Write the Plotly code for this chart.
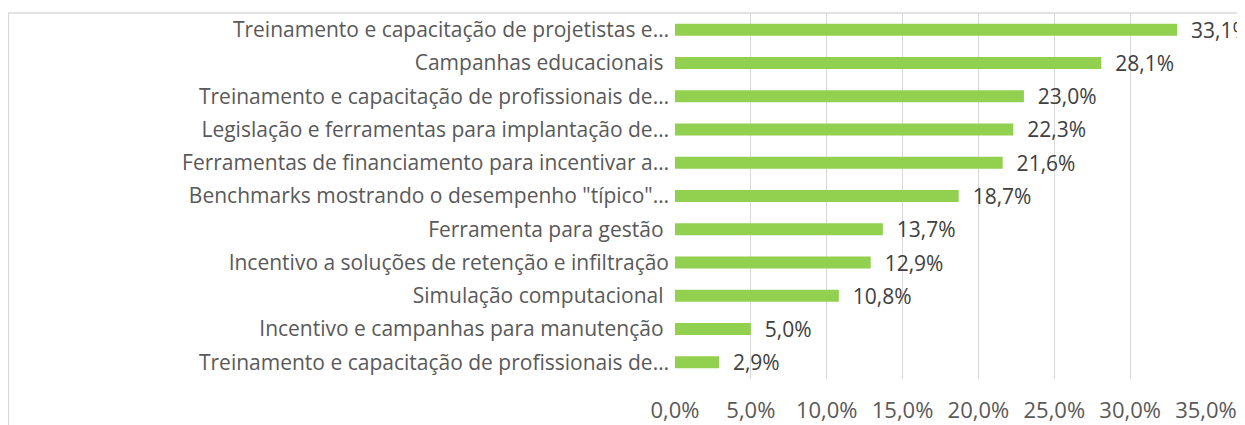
import plotly.graph_objects as go

# categories top to bottom
labels = [
    'Treinamento e capacitação de projetistas e…',
    'Campanhas educacionais\u00a0',
    'Treinamento e capacitação de profissionais de…',
    'Legislação e ferramentas para implantação de…',
    'Ferramentas de financiamento para incentivar a…',
    'Benchmarks mostrando o desempenho "típico"…',
    'Ferramenta para gestão\u00a0',
    'Incentivo a soluções de retenção e infiltração',
    'Simulação computacional\u00a0',
    'Incentivo e campanhas para manutenção\u00a0',
    'Treinamento e capacitação de profissionais de…',
]
values = [33.1, 28.1, 23.0, 22.3, 21.6, 18.7, 13.7, 12.9, 10.8, 5.0, 2.9]
tick_vals = [0, 5, 10, 15, 20, 25, 30, 35]
tick_text = ['0,0%', '5,0%', '10,0%', '15,0%', '20,0%', '25,0%', '30,0%', '35,0%']

positions = list(range(len(labels)))[::-1]
FONT = "Open Sans, sans-serif"

fig = go.Figure()
fig.add_trace(go.Bar(
    y=positions,
    x=values,
    orientation='h',
    marker=dict(color='#92D050', line=dict(width=0)),
    texttemplate='\u00a0\u00a0%{x:.1f}%',
    textposition='outside',
    constraintext='none',
    textfont=dict(family=FONT, size=21, color='#404040'),
    cliponaxis=False,
    showlegend=False,
))

# page body adds an 8px offset, margins compensate for it
fig.update_layout(
    width=1245,
    height=425,
    margin=dict(l=667, r=47, t=5, b=54),
    paper_bgcolor='white',
    plot_bgcolor='white',
    separators=',.',
    bargap=0.64,
    font=dict(family=FONT, size=21, color='#595959'),
    xaxis=dict(
        range=[0, 35],
        tickvals=tick_vals,
        ticktext=tick_text,
        showgrid=True,
        gridcolor='#d9d9d9',
        gridwidth=1,
        zeroline=False,
        showline=False,
        ticks='',
        ticklabelstandoff=16,
        automargin=False,
        tickfont=dict(family=FONT, size=22, color='#595959'),
    ),
    yaxis=dict(
        tickvals=positions,
        ticktext=labels,
        range=[-0.5, len(labels) - 0.5],
        showgrid=False,
        zeroline=False,
        showline=False,
        ticks='',
        ticklabelstandoff=5,
        automargin=False,
    ),
    shapes=[dict(
        type='rect', xref='paper', yref='paper',
        x0=-1.2555, x1=1.6, y0=-0.6, y1=1.0,
        line=dict(color='#d9d9d9', width=1.5),
        fillcolor='rgba(0,0,0,0)',
        layer='below',
    )],
)

fig.write_html("out.html")
